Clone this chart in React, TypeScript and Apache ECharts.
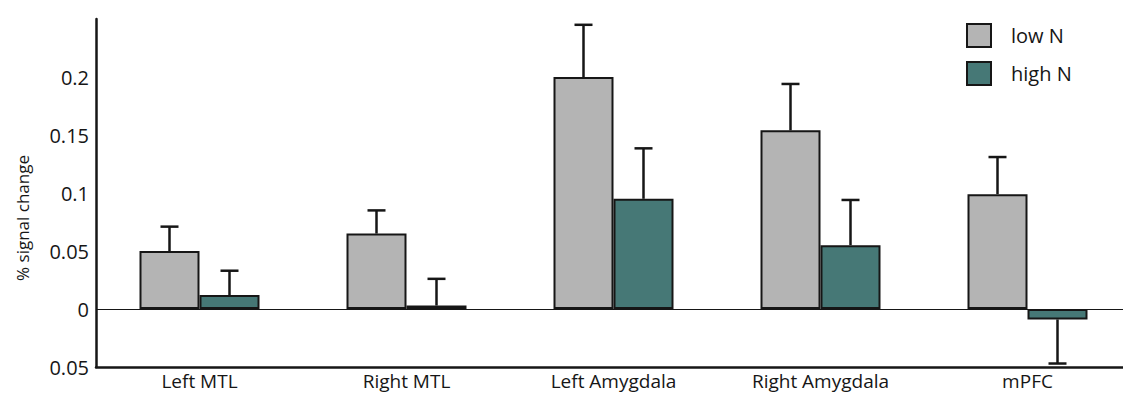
import React, { useEffect, useRef } from "react";
import * as echarts from "echarts";

const categories = ["Left MTL", "Right MTL", "Left Amygdala", "Right Amygdala", "mPFC"];
const lowN = [0.05, 0.065, 0.2, 0.154, 0.099];
const highN = [0.012, 0.003, 0.095, 0.055, -0.009];
// error bar end values (mean ± SE)
const lowNErrEnd = [0.071, 0.085, 0.245, 0.194, 0.131];
const highNErrEnd = [0.033, 0.026, 0.1385, 0.094, -0.047];
const yTicks = { min: -0.05, max: 0.25, interval: 0.05 };

const GRAY = "#b4b4b4";
const TEAL = "#467876";
const INK = "#161616";
const FONT = "'Open Sans', sans-serif";
const BAR_W = 60;

export default function App() {
  const ref = useRef<HTMLDivElement>(null);
  useEffect(() => {
    if (!ref.current) return;
    const chart = echarts.init(ref.current, null, { renderer: "svg" });
    const errData: number[][] = [];
    categories.forEach((_, i) => {
      errData.push([i, lowN[i], lowNErrEnd[i], -1]);
      errData.push([i, highN[i], highNErrEnd[i], 1]);
    });
    chart.setOption({
      animation: false,
      textStyle: { fontFamily: FONT },
      grid: { left: 96, right: 0, top: 19, bottom: 27 },
      legend: {
        data: ["low N", "high N"],
        orient: "vertical",
        left: 966,
        top: 23,
        padding: 0,
        itemWidth: 24,
        itemHeight: 23,
        itemGap: 13,
        icon: "rect",
        textStyle: { fontSize: 20, color: INK, fontFamily: FONT, padding: [0, 0, 0, 15] },
      },
      xAxis: {
        type: "category",
        data: categories,
        position: "bottom",
        axisLine: { onZero: false, lineStyle: { color: INK, width: 2.5 } },
        axisTick: { show: false },
        axisLabel: { fontSize: 19, color: INK, margin: 4, fontFamily: FONT },
      },
      yAxis: {
        type: "value",
        min: yTicks.min,
        max: yTicks.max,
        interval: yTicks.interval,
        splitLine: { show: false },
        axisTick: { show: false },
        axisLine: { show: true, lineStyle: { color: INK, width: 2.5 } },
        axisLabel: {
          fontSize: 20,
          color: INK,
          margin: 7,
          fontFamily: FONT,
          formatter: (v: number) => (v > 0.249 ? "" : String(Math.abs(Math.round(v * 100) / 100))),
        },
      },
      graphic: [
        {
          type: "text",
          x: 22,
          y: 218,
          rotation: Math.PI / 2,
          style: {
            text: "% signal change",
            fontSize: 17,
            fontFamily: FONT,
            fill: INK,
            textAlign: "center",
            textVerticalAlign: "middle",
          },
        },
      ],
      series: [
        {
          name: "low N",
          type: "bar",
          data: lowN,
          barWidth: BAR_W,
          barGap: "0%",
          itemStyle: { color: GRAY, borderColor: INK, borderWidth: 2 },
          markLine: {
            silent: true,
            symbol: "none",
            label: { show: false },
            lineStyle: { color: INK, width: 1, type: "solid" },
            data: [{ yAxis: 0 }],
          },
        },
        {
          name: "high N",
          type: "bar",
          data: highN,
          barWidth: BAR_W,
          barGap: "0%",
          itemStyle: { color: TEAL, borderColor: INK, borderWidth: 2 },
        },
        {
          type: "custom",
          data: errData,
          encode: { x: 0, y: 2 },
          z: 5,
          renderItem: (params: any, api: any) => {
            const idx = api.value(0);
            const base = api.coord([idx, api.value(1)]);
            const end = api.coord([idx, api.value(2)]);
            const x = base[0] + api.value(3) * (BAR_W / 2);
            const cap = 9;
            const style = { stroke: INK, lineWidth: 2.5 };
            return {
              type: "group",
              children: [
                { type: "line", shape: { x1: x, y1: base[1], x2: x, y2: end[1] }, style },
                { type: "line", shape: { x1: x - cap, y1: end[1], x2: x + cap, y2: end[1] }, style },
              ],
            };
          },
        },
      ],
    });
    return () => chart.dispose();
  }, []);
  return (
    <div
      style={{
        position: "absolute",
        left: 0,
        top: 0,
        width: 1123,
        height: 394,
        overflow: "hidden",
        background: "#fff",
      }}
    >
      <div ref={ref} style={{ width: 1131, height: 394 }} />
    </div>
  );
}
